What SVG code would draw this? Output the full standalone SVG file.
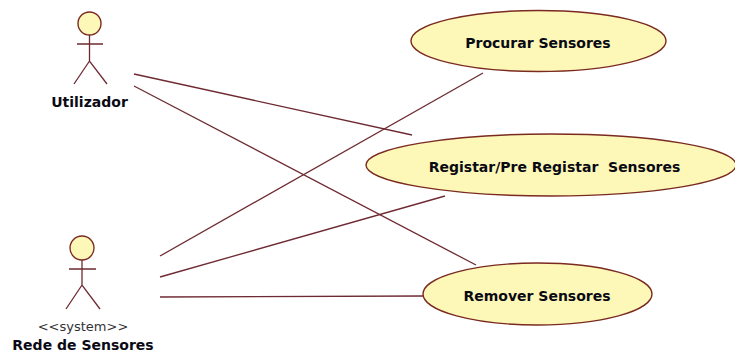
<svg xmlns="http://www.w3.org/2000/svg" width="735" height="352" viewBox="0 0 735 352">
<style>
.s{stroke:#6e2a32;stroke-width:1.3;fill:none}
.f{fill:#fdf8b8;stroke:#7a2a20;stroke-width:1.4}
.t{font-family:"DejaVu Sans",sans-serif;font-weight:bold;font-size:14px;fill:#0a0a14;text-anchor:middle}
.n{font-family:"DejaVu Sans",sans-serif;font-size:13px;fill:#333;text-anchor:middle}
</style>
<rect width="735" height="352" fill="#ffffff"/>
<g id="connectors" class="s">
<path d="M134 74L412 135"/>
<path d="M134 86L476 265"/>
<path d="M160 256L483 73"/>
<path d="M160 277L445 196"/>
<path d="M160 297L423 296"/>
</g>
<g id="actor-utilizador">
<circle class="f" cx="89.500" cy="23.500" r="11.500"/>
<path class="s" d="M77 44H103M89.500 35V61M74 84L89.500 61L107 84"/>
<text class="t" x="89.500" y="107">Utilizador</text>
</g>
<g id="actor-rede">
<circle class="f" cx="82" cy="248" r="12"/>
<path class="s" d="M69 269H96M82 260V285M66 309L82 285L100 309"/>
<text class="n" x="83" y="331">&lt;&lt;system&gt;&gt;</text>
<text class="t" x="83" y="350">Rede de Sensores</text>
</g>
<g id="uc-procurar">
<ellipse class="f" cx="538.500" cy="41" rx="127.500" ry="30.500"/>
<text class="t" x="538" y="48">Procurar Sensores</text>
</g>
<g id="uc-registar">
<ellipse class="f" cx="551" cy="165" rx="185" ry="31"/>
<text class="t" x="554.500" y="172" xml:space="preserve">Registar/Pre Registar  Sensores</text>
</g>
<g id="uc-remover">
<ellipse class="f" cx="537.500" cy="294" rx="114.500" ry="31"/>
<text class="t" x="537" y="301">Remover Sensores</text>
</g>
</svg>
